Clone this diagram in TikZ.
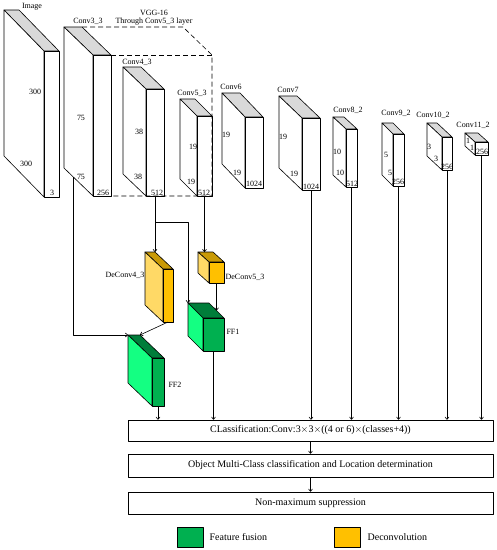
\documentclass[tikz,border=0pt]{standalone}
\usepackage{fontspec}
\setmainfont{Liberation Serif}
\usetikzlibrary{arrows.meta}

\definecolor{plaintop}{HTML}{D9D9D9}
\definecolor{plainside}{HTML}{FFFFFF}
\definecolor{plainfront}{HTML}{FFFFFF}
\definecolor{deconvtop}{HTML}{C99A06}
\definecolor{deconvside}{HTML}{FFD966}
\definecolor{deconvfront}{HTML}{FFC000}
\definecolor{fusiontop}{HTML}{007D3A}
\definecolor{fusionside}{HTML}{14FF82}
\definecolor{fusionfront}{HTML}{00B050}

% #1 name, #2-#5 front face (left, top, right, bottom), #6 #7 depth, #8 colour set
\newcommand{\cuboid}[8]{%
	\filldraw[fill=#8top] (#2,#3) -- ++(-#6,-#7) -- ++(#4-#2,0) -- (#4,#3) -- cycle;
	\filldraw[fill=#8side] (#2,#3) -- ++(-#6,-#7) -- ++(0,#5-#3) -- (#2,#5) -- cycle;
	\node[draw, fill=#8front, inner sep=0pt, outer sep=0pt, anchor=north west,
		minimum width={(#4-#2)*1pt}, minimum height={(#5-#3)*1pt}] (#1) at (#2,#3) {};
	\coordinate (#1-tl) at (#2-#6,#3-#7);
	\coordinate (#1-tr) at (#4-#6,#3-#7);
	\coordinate (#1-re) at (#4-#6/2,#3-#7/2);
}

\begin{document}
\begin{tikzpicture}[x=1pt, y=-1pt, line width=0.6pt, line join=round,
	font=\fontsize{8}{9}\selectfont,
	lbl/.style={inner sep=0pt},
	box/.style={draw, minimum width=365pt, inner sep=0pt, font=\fontsize{10}{12}\selectfont},
	key/.style={draw, minimum width=26pt, minimum height=20pt, inner sep=0pt},
	arr/.style={-{To[length=3pt,width=4.5pt]}},
	vgg/.style={dash pattern=on 5pt off 3pt}]
	\useasboundingbox (0,0) rectangle (497,550);

	% feature maps
	\cuboid{img}{44}{51}{59}{197}{40}{41}{plain}
	\cuboid{c33}{93}{55}{111}{196}{29}{28}{plain}
	\cuboid{c43}{146}{89}{164}{196}{23}{22}{plain}
	\cuboid{c53}{197}{116}{212}{196}{17}{17}{plain}
	\cuboid{c6}{245}{117}{263}{188}{23}{24}{plain}
	\cuboid{c7}{302}{118}{320}{190}{23}{22}{plain}
	\cuboid{c82}{346}{129}{357}{187}{13}{12}{plain}
	\cuboid{c92}{393}{134}{404}{186}{11}{11}{plain}
	\cuboid{c102}{442}{137}{452}{170}{15}{14}{plain}
	\cuboid{c112}{475}{142}{488}{155}{10}{9}{plain}

	% VGG-16 part
	\draw[vgg] (c33-tr) -- (183,27) -- (212,55) -- (c53.south east) -- (c33.south east);
	\draw[vgg] (c33.north east) -- (212,55);

	% deconvolution and fusion
	\cuboid{dc43}{163}{269}{173}{322}{18}{17}{deconv}
	\cuboid{dc53}{209}{262}{224}{283}{11}{10}{deconv}
	\cuboid{ff1}{203}{318}{224}{351}{15}{15}{fusion}
	\cuboid{ff2}{152}{358}{164}{406}{24}{23}{fusion}

	% names
	\node[lbl] (t-img) at (32,7) {Image};
	\node[lbl] (t-c33) at (88,21) {Conv3\_3};
	\node[lbl] (t-vgg) at (154,13) {VGG-16};
	\node[lbl] (t-vgg2) at (154,22) {Through Conv5\_3 layer};
	\node[lbl] (t-c43) at (137,62) {Conv4\_3};
	\node[lbl] (t-c53) at (192,93) {Conv5\_3};
	\node[lbl] (t-c6) at (231,87) {Conv6};
	\node[lbl] (t-c7) at (288,90) {Conv7};
	\node[lbl] (t-c82) at (348,110) {Conv8\_2};
	\node[lbl] (t-c92) at (396,113) {Conv9\_2};
	\node[lbl] (t-c102) at (433,115) {Conv10\_2};
	\node[lbl] (t-c112) at (473,125) {Conv11\_2};
	\node[lbl] (t-dc43) at (125,275) {DeConv4\_3};
	\node[lbl] (t-dc53) at (245,277) {DeConv5\_3};
	\node[lbl] (t-ff1) at (233,332) {FF1};
	\node[lbl] (t-ff2) at (175,385) {FF2};

	% sizes
	\node[lbl] (s-img1) at (35,92) {300};
	\node[lbl] (s-img2) at (26,164) {300};
	\node[lbl] (s-img3) at (52,193) {3};
	\node[lbl] (s-c331) at (81,118) {75};
	\node[lbl] (s-c332) at (81,177) {75};
	\node[lbl] (s-c333) at (103,193) {256};
	\node[lbl] (s-c431) at (139,132) {38};
	\node[lbl] (s-c432) at (138,177) {38};
	\node[lbl] (s-c433) at (157,193) {512};
	\node[lbl] (s-c531) at (193,147) {19};
	\node[lbl] (s-c532) at (191,182) {19};
	\node[lbl] (s-c533) at (204,193) {512};
	\node[lbl] (s-c61) at (226,135) {19};
	\node[lbl] (s-c62) at (237,173) {19};
	\node[lbl] (s-c63) at (254,184) {1024};
	\node[lbl] (s-c71) at (283,137) {19};
	\node[lbl] (s-c72) at (294,174) {19};
	\node[lbl] (s-c73) at (311,187) {1024};
	\node[lbl] (s-c821) at (337,152) {10};
	\node[lbl] (s-c822) at (340,173) {10};
	\node[lbl] (s-c823) at (352,184) {512};
	\node[lbl] (s-c921) at (386,155) {5};
	\node[lbl] (s-c922) at (390,173) {5};
	\node[lbl] (s-c923) at (398,182) {256};
	\node[lbl] (s-c1021) at (429,147) {3};
	\node[lbl] (s-c1022) at (436,159) {3};
	\node[lbl] (s-c1023) at (447,167) {256};
	\node[lbl] (s-c1121) at (468,141) {1};
	\node[lbl] (s-c1122) at (472,148) {1};
	\node[lbl] (s-c1123) at (482,152) {256};

	% detection boxes
	\node[box, minimum height=21pt] (cls) at (310.5,430.5) {CLassification:Conv:3$\times$3$\times$((4 or 6)$\times$(classes+4))};
	\node[box, minimum height=23pt] (loc) at (310.5,465.5) {Object Multi-Class classification and Location determination};
	\node[box, minimum height=22pt] (nms) at (310.5,503) {Non-maximum suppression};

	% legend
	\node[key, fill=fusionfront] (k-ff) at (190,537) {};
	\node[anchor=west, font=\fontsize{10}{12}\selectfont] (k-fft) at (206,537) {Feature fusion};
	\node[key, fill=deconvfront] (k-dc) at (347.5,537) {};
	\node[anchor=west, font=\fontsize{10}{12}\selectfont] (k-dct) at (364,537) {Deconvolution};

	% connections
	\coordinate (c33-out) at (73,177);
	\coordinate (c43-split) at ([yshift=-26pt]c43.south);
	\draw[arr] (c33-out) |- (ff2-tl);
	\draw[arr] (c43.south) -- (c43.south |- dc43-tl);
	\draw[arr] (c43-split) -| (ff1-tl);
	\draw[arr] (c53.south) -- (c53.south |- dc53-tl);
	\draw[arr] (dc53.south) -- (ff1-re);
	\draw[arr] (dc43.south) -- (ff2-tr);
	\foreach \src in {ff2, ff1, c7, c82, c92, c102, c112}
		\draw[arr] (\src.south) -- (\src.south |- cls.north);
	\draw[arr] (cls) -- (loc);
	\draw[arr] (loc) -- (nms);

\end{tikzpicture}
\end{document}
